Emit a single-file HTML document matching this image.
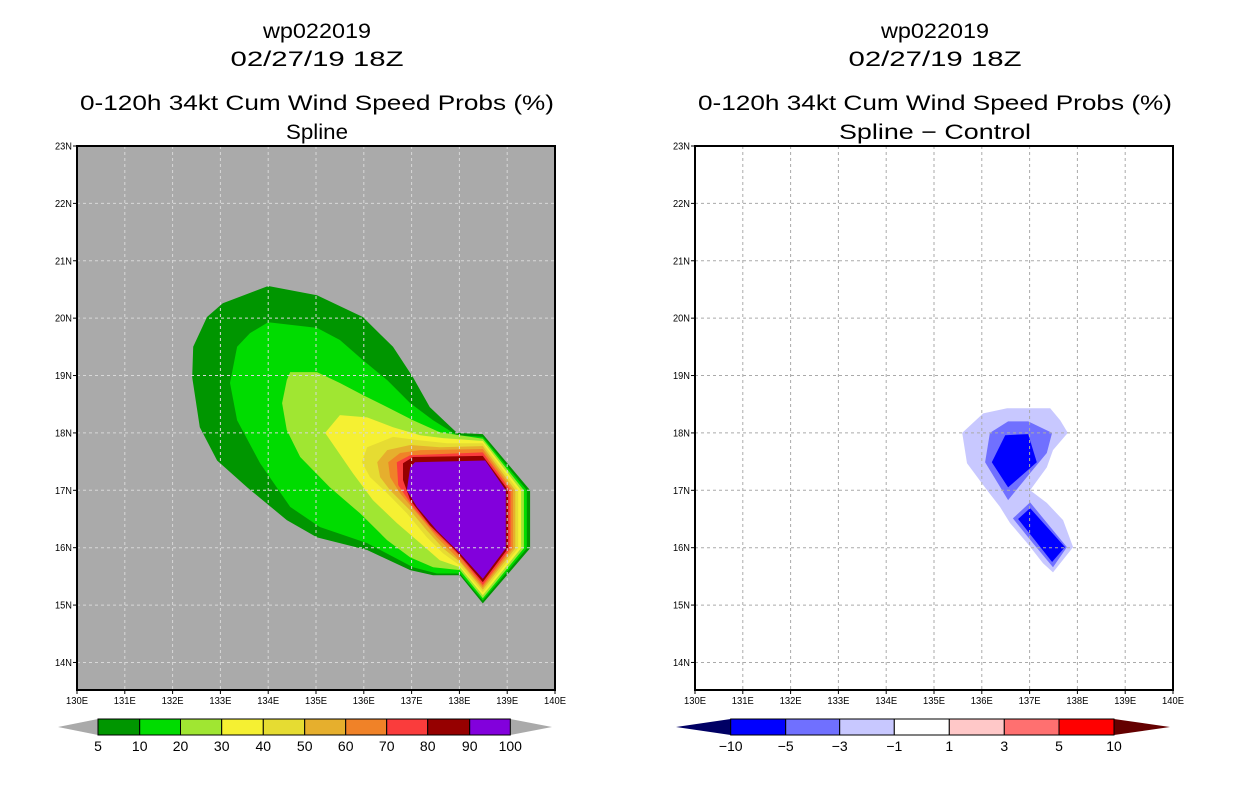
<!DOCTYPE html>
<html><head><meta charset="utf-8">
<style>
body{margin:0;background:#fff;width:1236px;height:800px;overflow:hidden;font-family:"Liberation Sans",sans-serif}
svg text{font-family:"Liberation Sans",sans-serif}
</style></head>
<body>
<svg id="chart" width="1236" height="800" viewBox="0 0 1236 800" xmlns="http://www.w3.org/2000/svg"></svg>
<script>
// ---- data ----
const lonTicks=[130,131,132,133,134,135,136,137,138,139,140];
const latTicks=[14,15,16,17,18,19,20,21,22,23];
const leftLevels=["5","10","20","30","40","50","60","70","80","90","100"];
const leftColors=["#009600","#00dc00","#a0e632","#f5f032","#e6dc32","#e6af2d","#f08228","#fa3c3c","#960000","#8200dc"];
// probability contours (lon,lat), levels 5..90
const c05=[[134.0,20.56],[135.02,20.40],[135.98,20.02],[136.61,19.50],[137.03,18.97],[137.38,18.45],[137.95,18.0],[138.49,17.98],[139.48,17.0],[139.48,15.99],[138.49,15.03],[138.01,15.52],[137.45,15.52],[136.97,15.61],[136.07,15.96],[135.02,16.18],[134.39,16.48],[133.56,17.05],[132.93,17.52],[132.57,18.10],[132.41,18.97],[132.43,19.50],[132.72,20.02],[133.05,20.26]];
const c10=[[134.0,19.93],[135.02,19.83],[135.5,19.62],[135.98,19.27],[136.49,18.92],[136.97,18.52],[137.45,18.22],[137.95,17.96],[138.49,17.93],[139.41,17.0],[139.41,15.99],[138.49,15.08],[138.01,15.55],[137.53,15.55],[137.03,15.66],[136.07,16.08],[135.08,16.36],[134.46,16.71],[133.83,17.47],[133.35,18.22],[133.2,18.87],[133.35,19.5],[133.62,19.74]];
const c20=[[134.46,19.06],[135.02,19.06],[135.5,18.87],[135.98,18.66],[136.49,18.45],[137.03,18.22],[137.59,18.01],[138.49,17.90],[139.35,17.0],[139.35,15.99],[138.49,15.12],[138.01,15.61],[137.45,15.66],[136.97,15.83],[136.49,16.13],[135.92,16.6],[135.29,17.05],[134.67,17.58],[134.39,18.05],[134.29,18.52],[134.39,18.92]];
const c30=[[135.5,18.31],[136.07,18.27],[136.61,18.10],[137.18,17.96],[137.66,17.91],[138.49,17.86],[139.29,17.0],[139.29,15.99],[138.49,15.17],[138.01,15.66],[137.59,15.78],[137.18,16.08],[136.69,16.43],[136.19,16.83],[135.77,17.30],[135.44,17.70],[135.19,18.0]];
const c40=[[136.07,17.75],[136.61,17.93],[137.18,17.87],[137.74,17.82],[138.49,17.82],[139.23,17.0],[139.23,15.99],[138.49,15.22],[138.01,15.69],[137.66,15.90],[137.32,16.18],[136.90,16.60],[136.49,16.95],[136.13,17.23],[135.96,17.49]];
const c50=[[136.28,17.49],[136.49,17.70],[136.97,17.79],[137.59,17.75],[138.49,17.77],[139.17,17.0],[139.17,15.99],[138.49,15.27],[138.01,15.75],[137.66,15.99],[137.32,16.30],[136.97,16.65],[136.55,17.0],[136.34,17.23]];
const c60=[[136.51,17.49],[136.76,17.65],[137.18,17.70],[138.49,17.72],[139.12,17.0],[139.12,15.99],[138.49,15.31],[137.95,15.83],[137.53,16.18],[137.18,16.53],[136.76,16.95],[136.55,17.23]];
const c70=[[136.69,17.49],[136.97,17.61],[138.49,17.66],[139.07,17.0],[139.07,15.99],[138.49,15.35],[137.95,15.90],[137.45,16.30],[137.03,16.71],[136.72,17.09]];
const c80=[[136.82,17.47],[137.03,17.58],[138.49,17.60],[139.02,17.0],[139.02,15.99],[138.49,15.40],[137.91,15.96],[137.38,16.39],[136.97,16.83],[136.82,17.18]];
const c90=[[136.97,17.40],[137.07,17.49],[138.54,17.52],[138.97,17.0],[138.97,15.99],[138.49,15.46],[138.01,15.90],[137.53,16.30],[137.11,16.71],[136.90,17.0]];
const leftContours=[c05,c10,c20,c30,c40,c50,c60,c70,c80,c90];

const rightLevels=["-10","-5","-3","-1","1","3","5","10"];
const rightColors=["#000064","#0000ff","#7070ff","#c8c8ff","#ffffff","#ffc8c8","#ff7070","#ff0000","#640000"];
// difference contours
const dLight=[[135.59,18.0],[136.03,18.34],[136.53,18.43],[137.43,18.43],[137.64,18.22],[137.80,18.0],[137.49,17.70],[137.36,17.40],[137.01,17.0],[137.36,16.78],[137.70,16.48],[137.91,16.01],[137.49,15.57],[137.28,15.73],[136.95,16.08],[136.59,16.43],[136.38,16.71],[136.11,17.0],[135.69,17.47]];
const dMedA=[[136.17,18.0],[136.55,18.20],[136.97,18.20],[137.47,18.0],[137.36,17.65],[137.01,17.30],[136.55,16.83],[136.07,17.49]];
const dMedB=[[136.65,16.51],[137.01,16.79],[137.78,16.01],[137.49,15.66],[137.07,16.08]];
const dDarkA=[[136.21,17.49],[136.49,17.96],[136.97,17.98],[137.15,17.49],[136.55,17.05]];
const dDarkB=[[136.76,16.50],[137.01,16.69],[137.74,16.01],[137.47,15.75]];
const rightContours=[[dLight,"#c8c8ff"],[dMedA,"#7070ff"],[dMedB,"#7070ff"],[dDarkA,"#0000ff"],[dDarkB,"#0000ff"]];

// ---- drawing ----
const NS="http://www.w3.org/2000/svg";
const svg=document.getElementById('chart');
function mk(tag,attrs,parent){const e=document.createElementNS(NS,tag);for(const k in attrs)e.setAttribute(k,attrs[k]);(parent||svg).appendChild(e);return e;}
const Y0=146,Y1=690,LAT0=23,LAT1=13.52;
function yS(lat){return Y0+(LAT0-lat)*(Y1-Y0)/(LAT0-LAT1);}
function panel(x0,bg,contours,colors,title4,title4w,name,gridCol){
  const x1=x0+478;
  const xS=lon=>x0+(lon-130)*(x1-x0)/10;
  const g=mk('g',{});
  
  
  const bgR=mk('rect',{x:x0,y:Y0,width:x1-x0,height:Y1-Y0,fill:bg},g);
  
  
  contours.forEach((c,i)=>{
    const p=mk('polygon',{points:c[0].map(q=>xS(q[0]).toFixed(1)+','+yS(q[1]).toFixed(1)).join(' '),fill:c[1]},g);
    
    
  });
  lonTicks.slice(1,-1).forEach(l=>{const ln=mk('line',{x1:xS(l),x2:xS(l),y1:Y0,y2:Y1,stroke:gridCol,'stroke-width':1,'stroke-dasharray':'3,3'},g);
    
    });
  latTicks.slice(0,-1).forEach(l=>{const ln=mk('line',{x1:x0,x2:x1,y1:yS(l),y2:yS(l),stroke:gridCol,'stroke-width':1,'stroke-dasharray':'3,3'},g);
    
    });
  const fr=mk('rect',{x:x0,y:Y0,width:x1-x0,height:Y1-Y0,fill:'none',stroke:'#000','stroke-width':2},g);
  
  
  latTicks.forEach(l=>{mk('line',{x1:x0-4,x2:x0,y1:yS(l),y2:yS(l),stroke:'#000'},g);
    const t=mk('text',{x:x0-5,y:yS(l)+3.5,'font-size':10,'text-anchor':'end',textLength:17,lengthAdjust:'spacingAndGlyphs'},g);t.textContent=l+'N';
    
    });
  lonTicks.forEach(l=>{mk('line',{x1:xS(l),x2:xS(l),y1:Y1,y2:Y1+4,stroke:'#000'},g);
    const t=mk('text',{x:xS(l),y:Y1+14,'font-size':10,'text-anchor':'middle',textLength:22,lengthAdjust:'spacingAndGlyphs'},g);t.textContent=l+'E';
    
    });
  const cx=(x0+x1)/2+1;
  [['wp022019',38,108,'title-storm'],['02/27/19 18Z',66,173,'title-date'],['0-120h 34kt Cum Wind Speed Probs (%)',110,474,'title-product'],[title4,139,title4w,'title-method']].forEach(a=>{
    const t=mk('text',{x:cx,y:a[1],'font-size':21,'text-anchor':'middle',textLength:a[2],lengthAdjust:'spacingAndGlyphs'},g);t.textContent=a[0];
    
    });
}
panel(77,'#aaaaaa',leftContours.map((c,i)=>[c,leftColors[i]]),leftColors,'Spline',62,'left-map-panel','#d8d8d8');
panel(695,'#ffffff',rightContours,rightColors,'Spline − Control',192,'right-map-panel','#aaaaaa');

function colorbar(edges,tipL,tipR,cols,triL,triR,labels,name){
  const g=mk('g',{});
  
  
  const y0=719,y1=735,ym=727;
  const tl=mk('polygon',{points:`${tipL},${ym} ${edges[0]},${y0} ${edges[0]},${y1}`,fill:triL},g);
  
  
  const n=edges.length-1;
  const tr=mk('polygon',{points:`${tipR},${ym} ${edges[n]},${y0} ${edges[n]},${y1}`,fill:triR},g);
  
  
  for(let i=0;i<n;i++){const r=mk('rect',{x:edges[i],y:y0,width:edges[i+1]-edges[i],height:y1-y0,fill:cols[i],stroke:'#000','stroke-width':1},g);
    
    }
  labels.forEach((l,i)=>{const t=mk('text',{x:edges[i],y:751,'font-size':14,'text-anchor':'middle'},g);t.textContent=l.replace('-','−');
    
    });
}
const lEdges=[98,139.7,180.5,221.7,263.3,304.7,345.7,386.7,427.7,469.7,510.3];
colorbar(lEdges,58,552,leftColors,'#aaaaaa','#aaaaaa',leftLevels,'left-colorbar');
const rEdges=[730.7,785.7,839.7,894.3,949.3,1004.3,1059,1114];
colorbar(rEdges,676,1170,rightColors.slice(1,8),rightColors[0],rightColors[8],rightLevels,'right-colorbar');
</script>
</body></html>
